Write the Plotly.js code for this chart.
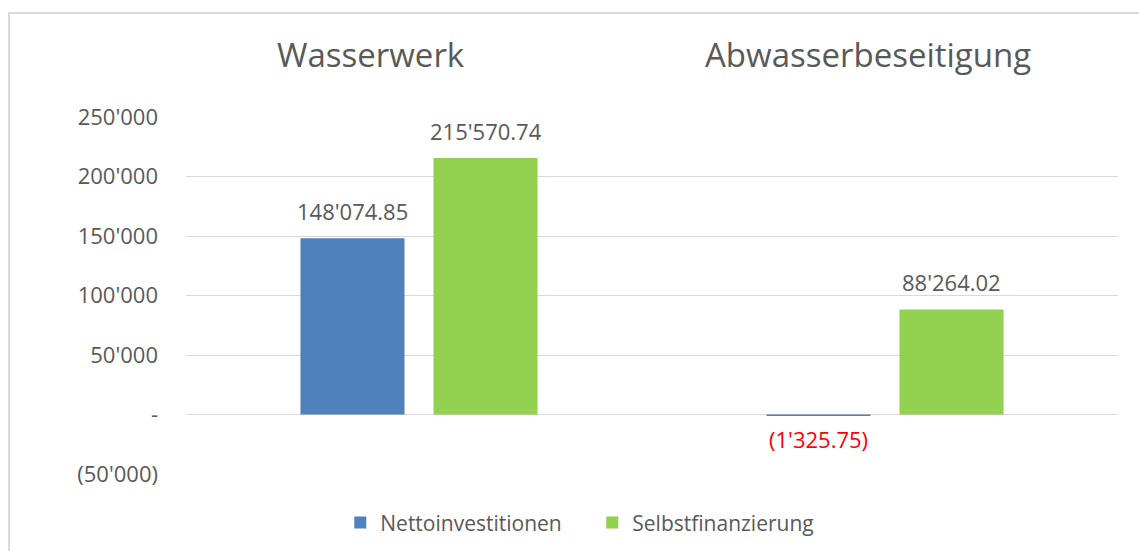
<!DOCTYPE html>
<html>
<head>
<meta charset="utf-8">
<script src="https://cdn.plot.ly/plotly-3.0.1.min.js"></script>
<style>
  html, body { margin: 0; padding: 0; background: #ffffff; overflow: hidden; }
  #frame { position: absolute; left: 8px; top: 12px; width: 2000px; height: 2000px;
           border-left: 2px solid #d9d9d9; border-top: 2px solid #d9d9d9; }
  #chart { position: absolute; left: 0; top: 0; width: 1139px; height: 551px; }
</style>
</head>
<body>
<div id="frame"></div>
<div id="chart"></div>
<script>
// ---- data ----
const categories = ["Wasserwerk", "Abwasserbeseitigung"];
const seriesNames = ["Nettoinvestitionen", "Selbstfinanzierung"];
const nettoinvestitionen = [148074.85, -1325.75];
const selbstfinanzierung = [215570.74, 88264.02];
const yTickVals = [-50000, 0, 50000, 100000, 150000, 200000, 250000];
const yTickText = ["(50'000)", "-", "50'000", "100'000", "150'000", "200'000", "250'000"];

// ---- helpers ----
function fmt(v) {
  const neg = v < 0;
  const parts = Math.abs(v).toFixed(2).split(".");
  const intPart = parts[0].replace(/\B(?=(\d{3})+(?!\d))/g, "'");
  const s = intPart + "." + parts[1];
  return neg ? "(" + s + ")" : s;
}

const colors = ["#4F81BD", "#92D050"];
const seriesValues = [nettoinvestitionen, selbstfinanzierung];
const textGray = "#595959";
const fontFam = "'Open Sans', 'Noto Sans', sans-serif";

const traces = seriesValues.map((vals, i) => ({
  type: "bar",
  name: seriesNames[i],
  x: categories,
  y: vals,
  marker: { color: colors[i] },
  hoverinfo: "none"
}));

const offsets = [-66.5, 66.5];
const annotations = [];
seriesValues.forEach((vals, i) => {
  vals.forEach((v, j) => {
    annotations.push({
      x: categories[j], y: v, xref: "x", yref: "y",
      xshift: offsets[i],
      yanchor: v < 0 ? "top" : "bottom",
      yshift: v < 0 ? -6 : 10,
      text: fmt(v),
      showarrow: false,
      font: { family: fontFam, size: 22, color: v < 0 ? "#FF0000" : textGray }
    });
  });
});

// category labels drawn at the top (Excel places them slightly left of the group centre)
const catShift = [-48, -17];
categories.forEach((c, j) => {
  annotations.push({
    x: c, xref: "x", y: 1, yref: "paper",
    yanchor: "bottom", yshift: 38, xshift: catShift[j],
    text: c, showarrow: false,
    font: { family: fontFam, size: 33, color: textGray }
  });
});

const layout = {
  width: 1139, height: 551,
  margin: { l: 186, r: 21, t: 117, b: 77 },
  paper_bgcolor: "rgba(0,0,0,0)",
  plot_bgcolor: "rgba(0,0,0,0)",
  barmode: "group",
  bargap: 0.429,
  bargroupgap: 0.218,
  font: { family: fontFam, color: textGray },
  xaxis: {
    side: "top",
    showgrid: false, zeroline: false, showline: false,
    ticks: "", showticklabels: false,
    fixedrange: true
  },
  yaxis: {
    range: [-50000, 250000],
    tickvals: yTickVals,
    ticktext: yTickText,
    showgrid: true, gridcolor: "#d9d9d9", gridwidth: 1,
    zeroline: true, zerolinecolor: "#d9d9d9", zerolinewidth: 1,
    showline: false, ticks: "",
    tickfont: { family: fontFam, size: 22, color: textGray },
    ticklabelstandoff: 27,
    fixedrange: true
  },
  showlegend: true,
  legend: {
    orientation: "h",
    xref: "container", yref: "container",
    x: 0.520, xanchor: "center",
    y: 0.051, yanchor: "middle",
    font: { family: fontFam, size: 21, color: textGray },
    itemwidth: 30,
    entrywidth: 207, entrywidthmode: "pixels",
    traceorder: "normal"
  },
  annotations: annotations
};

Plotly.newPlot("chart", traces, layout, { displayModeBar: false, staticPlot: true });
</script>
</body>
</html>
